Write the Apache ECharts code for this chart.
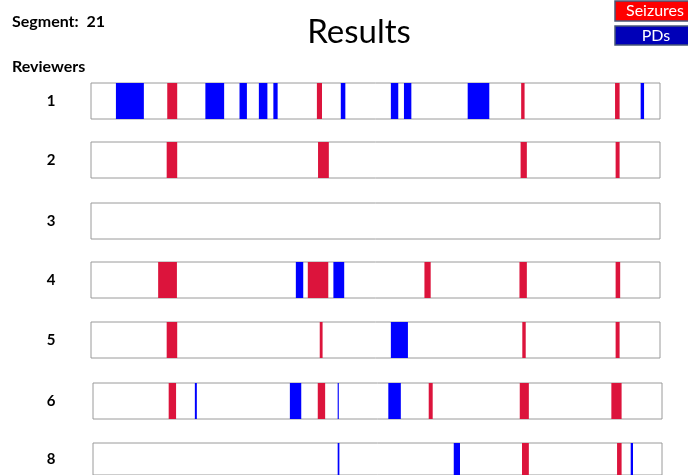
<!DOCTYPE html>
<html>
<head>
<meta charset="utf-8">
<script src="https://cdn.jsdelivr.net/npm/echarts@6/dist/echarts.min.js"></script>
<style>html,body{margin:0;padding:0;background:#fff}#c{width:688px;height:475px}</style>
</head>
<body>
<div id="c"></div>
<script>
// ---- data (positions along the segment, 0-100 %) ----
const reviewers = ['1', '2', '3', '4', '5', '6', '8'];
const seizureSpans = [
  [[13.4, 15.15], [39.7, 40.6], [75.6, 76.2], [92.1, 92.9]],
  [[13.3, 15.15], [39.9, 41.8], [75.5, 76.6], [92.2, 92.9]],
  [],
  [[11.8, 15.1], [38.1, 41.7], [58.6, 59.7], [75.3, 76.6], [92.2, 93.0]],
  [[13.3, 15.15], [40.2, 40.7], [75.8, 76.4], [92.2, 92.9]],
  [[13.3, 14.6], [39.5, 40.8], [59.0, 59.7], [75.0, 76.6], [91.1, 92.9]],
  [[75.4, 76.6], [92.1, 92.9]]
];
const pdSpans = [
  [[4.38, 9.29], [20.1, 23.4], [26.1, 27.4], [29.5, 31.0], [32.05, 32.8], [43.9, 44.7], [52.7, 54.0], [55.0, 56.3], [66.2, 70.0], [96.6, 97.2]],
  [],
  [],
  [[36.0, 37.3], [42.6, 44.5]],
  [[52.7, 55.7]],
  [[17.9, 18.25], [34.6, 36.6], [43.0, 43.2], [51.9, 54.1]],
  [[43.0, 43.3], [63.4, 64.5], [94.5, 94.9]]
];
const segmentLabel = 'Segment:  21';
const titleText = 'Results';
const legendNames = ['Seizures', 'PDs'];

// ---- layout ----
const rowTops = [83, 142, 203, 262, 322, 383, 443];
const rowLefts = [91, 91, 91, 91, 91, 93, 93];
const rowW = 569, rowH = 36;
const RED = '#DC143C', BLUE = '#0000FF';
const FONT = 'Lato';

function rectRenderer(color) {
  return function (params, api) {
    const s = api.coord([api.value(0), 0]);
    const e = api.coord([api.value(1), 0]);
    const h = api.size([0, 1])[1];
    return {
      type: 'rect',
      shape: { x: s[0], y: s[1] - h / 2, width: Math.max(1, e[0] - s[0]), height: h },
      style: { fill: color }
    };
  };
}

const grids = [], xAxes = [], yAxes = [], series = [];
reviewers.forEach((r, i) => {
  grids.push({ left: rowLefts[i], top: rowTops[i], width: rowW, height: rowH,
    show: true, borderColor: '#9a9a9a', borderWidth: 1, backgroundColor: '#fff', containLabel: false });
  xAxes.push({ gridIndex: i, type: 'value', min: 0, max: 100, show: false });
  yAxes.push({ gridIndex: i, type: 'category', data: [r],
    axisLine: { show: false }, axisTick: { show: false }, splitLine: { show: false },
    axisLabel: { margin: rowLefts[i] - 51, align: 'center', fontFamily: FONT, fontWeight: 'bold', fontSize: 15, color: '#000' } });
  series.push({ name: legendNames[0], type: 'custom', xAxisIndex: i, yAxisIndex: i,
    renderItem: rectRenderer(RED), encode: { x: [0, 1], y: 2 },
    data: seizureSpans[i].map(d => [d[0], d[1], 0]) });
  series.push({ name: legendNames[1], type: 'custom', xAxisIndex: i, yAxisIndex: i,
    renderItem: rectRenderer(BLUE), encode: { x: [0, 1], y: 2 },
    data: pdSpans[i].map(d => [d[0], d[1], 0]) });
});

const chart = echarts.init(document.getElementById('c'), null, { renderer: 'canvas' });
chart.setOption({
  animation: false,
  backgroundColor: '#fff',
  grid: grids, xAxis: xAxes, yAxis: yAxes, series: series,
  graphic: [
    { type: 'text', left: 12, top: 14, style: { text: segmentLabel, font: 'bold 16px ' + FONT, fill: '#000' } },
    { type: 'text', left: 12, top: 59, style: { text: 'Reviewers', font: 'bold 16px ' + FONT, fill: '#000' } },
    { type: 'text', x: 359, y: 32, style: { text: titleText, font: '33px ' + FONT, fill: '#000', align: 'center', verticalAlign: 'middle' } },
    { type: 'rect', shape: { x: 615, y: 1, width: 80, height: 20 }, style: { fill: '#FF0000', stroke: '#485878', lineWidth: 1.5 } },
    { type: 'text', x: 655, y: 11, style: { text: legendNames[0], font: '16px ' + FONT, fill: '#fff', align: 'center', verticalAlign: 'middle' } },
    { type: 'rect', shape: { x: 615, y: 26, width: 80, height: 19 }, style: { fill: '#0000B8', stroke: '#485878', lineWidth: 1.5 } },
    { type: 'text', x: 656, y: 36, style: { text: legendNames[1], font: '16px ' + FONT, fill: '#fff', align: 'center', verticalAlign: 'middle' } }
  ]
});
</script>
</body>
</html>
